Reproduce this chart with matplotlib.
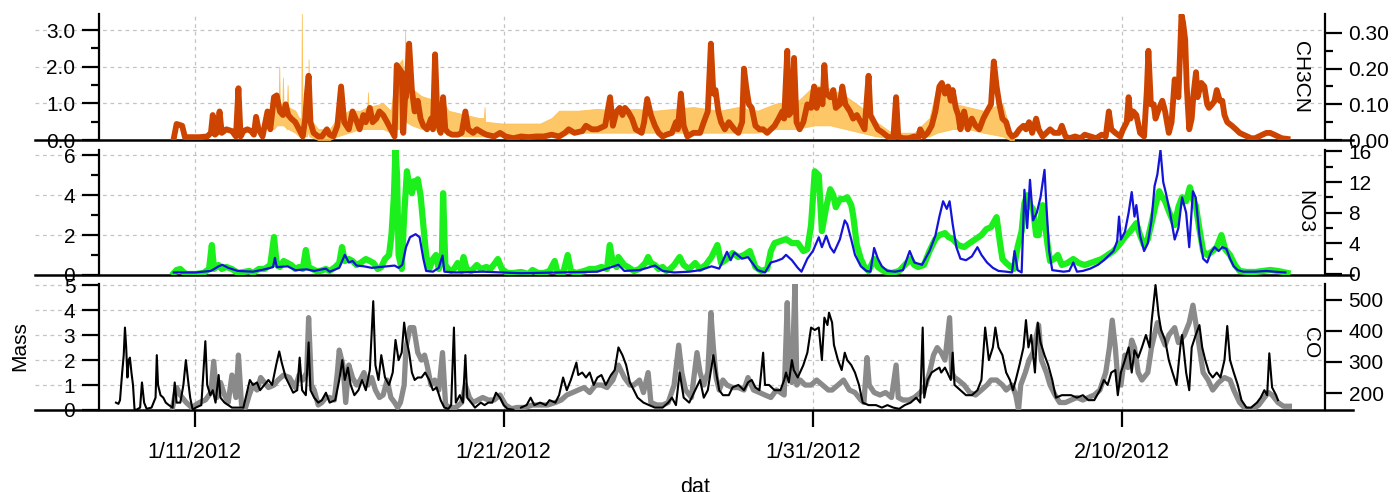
import matplotlib
matplotlib.use('Agg')
import matplotlib.pyplot as plt
import numpy as np
from matplotlib.ticker import FixedLocator

plt.rcParams['font.family'] = ['Liberation Sans', 'DejaVu Sans']

# time axis: days since 2012-01-01 (1/11/2012 -> 10)
date_ticks = [10, 20, 30, 40]
date_labels = ['1/11/2012', '1/21/2012', '1/31/2012', '2/10/2012']

# top panel: light orange trace (left axis) drawn as its visible min/max band
org = [(12.39, .3, .5), (12.57, .3, 1.1), (12.66, .4, 1.0), (12.72, .4, 1.0), (12.74, .4, 2.0), (12.76, .4, 1.0),
       (12.84, .4, 1.0), (12.86, .4, 1.7), (12.88, .4, .9), (12.99, .3, .9), (13.01, .3, 1.5), (13.03, .3, .9),
       (13.26, .2, .8), (13.38, .1, .6), (13.45, .1, .6), (13.47, .1, 3.5), (13.49, .1, .5), (13.63, .1, .8),
       (13.67, .2, .8), (13.69, .2, 2.2), (13.71, .1, .6), (14.00, 0, .3), (14.37, 0, .3), (14.62, .1, .6),
       (14.99, .2, .8), (15.36, .3, .8), (15.59, .3, .9), (15.61, .3, 1.3), (15.63, .3, .9), (16.10, .3, 1.0),
       (16.35, .2, .8), (16.54, .3, 2.0), (16.72, .3, 2.2), (16.79, .5, 1.5), (16.81, .5, 3.0), (16.83, .5, 2.0),
       (17.03, .4, 1.4), (17.34, .3, 1.2), (17.71, .3, 1.1), (18.08, .2, 1.0), (18.21, .2, .8), (18.70, .1, .7),
       (19.20, .1, .6), (19.36, .1, .6), (19.38, .1, .9), (19.40, .1, .5), (19.94, .1, .45), (20.56, .1, .45),
       (21.18, .1, .45), (21.55, .1, .6), (21.79, .15, .8), (22.41, .2, .8), (23.03, .2, .85), (23.65, .2, .8),
       (24.27, .2, .85), (24.89, .2, .8), (25.51, .2, .85), (26.13, .2, .9), (26.97, .2, .8), (27.59, .2, .9),
       (28.21, .2, .8), (28.82, .3, 1.0), (29.44, .3, 1.0), (30.06, .4, 1.5), (30.56, .4, 1.4), (31.05, .3, 1.2),
       (31.55, .2, .9), (32.04, .1, .5), (32.54, .05, .2), (33.28, .05, .2), (33.77, .1, .6), (34.02, .2, 1.5),
       (34.52, .3, 1.0), (35.01, .3, .9), (35.51, .2, .8), (36.13, .1, 1.0), (36.37, 0, .3), (36.50, 0, .05)]

# top panel: CH3CN (right axis)
ch3cn = [(9.33, .005), (9.42, .045), (9.60, .040), (9.69, .008), (10.16, .008), (10.41, .010), (10.53, .020),
         (10.59, .070), (10.66, .015), (10.72, .020), (10.81, .080), (10.88, .020), (11.03, .030), (11.21, .025),
         (11.34, .010), (11.42, .145), (11.49, .010), (11.58, .025), (11.71, .030), (11.83, .025), (11.92, .015),
         (11.99, .065), (12.07, .030), (12.20, .010), (12.36, .080), (12.45, .030), (12.57, .120), (12.66, .125),
         (12.76, .080), (12.86, .070), (12.95, .100), (13.03, .070), (13.13, .060), (13.26, .050), (13.38, .030),
         (13.50, .010), (13.58, .060), (13.63, .125), (13.69, .180), (13.75, .050), (13.85, .020), (14.00, .010),
         (14.12, .010), (14.28, .030), (14.37, .015), (14.49, .010), (14.62, .040), (14.74, .150), (14.84, .050),
         (14.99, .030), (15.11, .080), (15.21, .060), (15.34, .030), (15.46, .070), (15.54, .050), (15.67, .090),
         (15.76, .050), (15.88, .060), (15.98, .080), (16.10, .070), (16.23, .050), (16.35, .030), (16.47, .010),
         (16.54, .210), (16.62, .200), (16.70, .190), (16.75, .020), (16.81, .120), (16.84, .120), (16.94, .270),
         (17.03, .140), (17.12, .080), (17.22, .110), (17.31, .060), (17.40, .040), (17.52, .030), (17.65, .060),
         (17.71, .030), (17.78, .240), (17.86, .050), (17.96, .020), (18.04, .120), (18.11, .030), (18.21, .020),
         (18.33, .015), (18.52, .015), (18.64, .020), (18.76, .080), (18.85, .030), (19.01, .020), (19.13, .030),
         (19.32, .020), (19.44, .015), (19.69, .010), (19.88, .020), (20.06, .010), (20.31, .005), (20.56, .010),
         (20.80, .008), (21.05, .010), (21.30, .010), (21.55, .015), (21.79, .010), (21.98, .020), (22.10, .030),
         (22.29, .020), (22.54, .025), (22.66, .040), (22.85, .030), (23.03, .030), (23.28, .040), (23.44, .120),
         (23.53, .040), (23.65, .080), (23.75, .090), (23.84, .070), (23.92, .090), (24.02, .080), (24.15, .060),
         (24.27, .030), (24.46, .020), (24.54, .050), (24.64, .115), (24.76, .070), (24.89, .040), (25.01, .020),
         (25.14, .010), (25.26, .015), (25.44, .020), (25.57, .050), (25.63, .030), (25.73, .130), (25.82, .040),
         (25.94, .010), (26.13, .020), (26.35, .020), (26.47, .050), (26.60, .080), (26.70, .270), (26.78, .130),
         (26.85, .140), (26.94, .080), (27.03, .050), (27.15, .030), (27.28, .050), (27.46, .030), (27.59, .020),
         (27.71, .050), (27.77, .200), (27.84, .150), (27.93, .100), (28.02, .090), (28.14, .040), (28.27, .030),
         (28.39, .030), (28.52, .020), (28.64, .030), (28.76, .040), (28.89, .060), (29.01, .080), (29.07, .060),
         (29.17, .250), (29.22, .070), (29.32, .080), (29.39, .230), (29.47, .050), (29.57, .030), (29.69, .050),
         (29.82, .100), (29.94, .090), (30.04, .150), (30.12, .090), (30.19, .140), (30.31, .100), (30.37, .210),
         (30.43, .130), (30.56, .120), (30.66, .140), (30.74, .090), (30.87, .100), (30.95, .150), (31.05, .100),
         (31.20, .080), (31.30, .060), (31.42, .070), (31.55, .050), (31.67, .030), (31.80, .180), (31.86, .070),
         (31.98, .050), (32.10, .030), (32.27, .020), (32.41, .010), (32.60, .005), (32.69, .120), (32.76, .010),
         (32.91, .005), (33.10, .005), (33.28, .010), (33.40, .005), (33.47, .030), (33.59, .010), (33.71, .020),
         (33.84, .040), (33.96, .080), (34.09, .150), (34.17, .160), (34.27, .130), (34.37, .150), (34.46, .110),
         (34.52, .140), (34.62, .090), (34.70, .070), (34.77, .030), (34.89, .080), (35.01, .030), (35.14, .060),
         (35.26, .040), (35.38, .030), (35.51, .060), (35.63, .080), (35.76, .100), (35.85, .220), (35.94, .150),
         (36.03, .100), (36.13, .060), (36.25, .050), (36.35, .020), (36.44, .010), (36.56, .015), (36.68, .030),
         (36.81, .040), (36.89, .030), (36.99, .050), (37.09, .020), (37.22, .060), (37.30, .030), (37.43, .010),
         (37.55, .020), (37.67, .030), (37.80, .020), (37.96, .020), (38.05, .040), (38.17, .010), (38.29, .005),
         (38.48, .010), (38.66, .005), (38.79, .015), (38.97, .010), (39.16, .005), (39.34, .015), (39.47, .010),
         (39.57, .080), (39.65, .030), (39.78, .020), (39.94, .010), (40.03, .030), (40.15, .050), (40.21, .120),
         (40.27, .060), (40.36, .080), (40.46, .070), (40.58, .020), (40.71, .010), (40.80, .140), (40.85, .250),
         (40.93, .100), (41.02, .100), (41.08, .060), (41.20, .090), (41.30, .110), (41.39, .080), (41.51, .020),
         (41.60, .050), (41.70, .170), (41.82, .120), (41.92, .350), (41.97, .330), (42.04, .280), (42.09, .150),
         (42.17, .030), (42.25, .060), (42.31, .130), (42.39, .190), (42.44, .120), (42.56, .160), (42.66, .150),
         (42.75, .100), (42.81, .090), (42.91, .100), (42.99, .110), (43.06, .140), (43.16, .110), (43.24, .110),
         (43.31, .070), (43.40, .050), (43.55, .040), (43.68, .030), (43.80, .020), (43.92, .015), (44.05, .010),
         (44.17, .005), (44.30, .005), (44.42, .010), (44.54, .015), (44.67, .020), (44.79, .020), (44.92, .015),
         (45.04, .010), (45.16, .005), (45.35, .003)]

# middle panel: green trace (left axis)
grn = [(9.33, .1), (9.42, .25), (9.54, .3), (9.64, .15), (9.73, .05), (10.04, .05), (10.29, .1), (10.47, .3),
       (10.56, 1.5), (10.63, .3), (10.78, .5), (10.88, .3), (11.03, .4), (11.21, .3), (11.40, .1), (11.58, .15),
       (11.77, .2), (11.89, .1), (12.08, .3), (12.26, .3), (12.45, .5), (12.57, 1.9), (12.66, .5), (12.76, .4),
       (12.88, .7), (13.01, .6), (13.13, .5), (13.26, .3), (13.38, .4), (13.50, .3), (13.60, 1.25), (13.69, .4),
       (13.81, .3), (13.94, .2), (14.06, .2), (14.25, .3), (14.37, .2), (14.55, .4), (14.68, .6), (14.77, 1.4),
       (14.86, .7), (14.99, .8), (15.11, .7), (15.24, .5), (15.36, .6), (15.54, .8), (15.67, .7), (15.79, .6),
       (15.92, .3), (16.04, .4), (16.16, .8), (16.29, 1.0), (16.37, 2.0), (16.45, 4.0), (16.50, 6.3), (16.55, 5.0),
       (16.60, 1.0), (16.70, .3), (16.78, 3.0), (16.87, 5.2), (16.94, 4.5), (17.03, 4.1), (17.09, 4.7), (17.15, 4.4),
       (17.22, 4.8), (17.31, 4.0), (17.40, 2.5), (17.49, 1.0), (17.59, .3), (17.71, .8), (17.81, 1.0), (17.90, .3),
       (18.00, .8), (18.04, 4.1), (18.11, .5), (18.21, .3), (18.30, .2), (18.39, .3), (18.51, .6), (18.64, .2),
       (18.70, .9), (18.80, .3), (18.95, .2), (19.13, .5), (19.26, .3), (19.44, .4), (19.57, .3), (19.72, .6),
       (19.81, .8), (19.94, .3), (20.12, .1), (20.31, .1), (20.56, .15), (20.80, .05), (20.93, .25), (21.11, .1),
       (21.30, .1), (21.48, .2), (21.65, .7), (21.73, .15), (21.92, .1), (22.07, 1.0), (22.17, .2), (22.35, .1),
       (22.60, .2), (22.78, .3), (22.97, .3), (23.16, .4), (23.34, .3), (23.43, 1.5), (23.53, .6), (23.65, .4),
       (23.71, .9), (23.80, .7), (23.90, .5), (24.02, .4), (24.21, .2), (24.39, .3), (24.58, .6), (24.67, .9),
       (24.76, .6), (24.89, .5), (25.01, .3), (25.14, .4), (25.26, .2), (25.38, .3), (25.51, .5), (25.69, .9),
       (25.82, .5), (26.00, .3), (26.19, .6), (26.35, .3), (26.53, .5), (26.72, .9), (26.91, 1.5), (27.03, .6),
       (27.22, .8), (27.40, 1.1), (27.59, .9), (27.77, 1.0), (27.96, 1.2), (28.14, .4), (28.33, .2), (28.52, .3),
       (28.64, 1.2), (28.76, 1.6), (28.95, 1.7), (29.13, 1.8), (29.32, 1.6), (29.51, 1.6), (29.69, 1.2), (29.82, 1.3),
       (29.94, 2.5), (30.06, 5.2), (30.19, 5.0), (30.29, 2.2), (30.43, 3.4), (30.56, 4.3), (30.66, 4.0), (30.74, 3.4),
       (30.87, 3.8), (30.99, 3.8), (31.11, 3.9), (31.24, 3.5), (31.30, 3.0), (31.42, 1.5), (31.55, .8), (31.67, .4),
       (31.80, .2), (31.98, .8), (32.10, .4), (32.29, .2), (32.54, .1), (32.79, .2), (32.97, .5), (33.16, .8),
       (33.28, .5), (33.40, .4), (33.59, .5), (33.77, 1.2), (33.96, 1.8), (34.09, 2.0), (34.27, 2.1), (34.39, 1.9),
       (34.52, 1.8), (34.70, 1.5), (34.89, 1.4), (35.07, 1.6), (35.26, 1.8), (35.45, 2.0), (35.61, 2.3), (35.76, 2.4),
       (35.94, 2.9), (36.06, 1.5), (36.13, .8), (36.25, .6), (36.40, .4), (36.50, .3), (36.62, 1.4), (36.75, 2.2),
       (36.84, 3.6), (36.93, 4.0), (37.02, 3.5), (37.12, 3.3), (37.22, 2.0), (37.30, 2.0), (37.43, 3.5), (37.51, 2.5),
       (37.59, 1.5), (37.67, .7), (37.80, .8), (37.92, 1.0), (38.05, .5), (38.23, .6), (38.42, .8), (38.60, .6),
       (38.79, .5), (38.97, .6), (39.16, .7), (39.34, .8), (39.53, 1.0), (39.72, 1.2), (39.90, 1.5), (40.09, 1.9),
       (40.27, 2.2), (40.46, 2.6), (40.58, 2.0), (40.71, 1.5), (40.83, 1.8), (40.95, 2.6), (41.08, 3.5), (41.20, 4.2),
       (41.26, 4.0), (41.39, 3.7), (41.51, 3.2), (41.70, 2.5), (41.82, 3.4), (41.94, 3.9), (42.07, 3.7), (42.19, 4.4),
       (42.29, 3.8), (42.38, 3.5), (42.50, 2.3), (42.62, 1.2), (42.75, 1.0), (42.93, 1.2), (43.06, 1.4), (43.21, 2.0),
       (43.33, 1.3), (43.49, 1.0), (43.65, .5), (43.80, .2), (44.05, .15), (44.30, .15), (44.54, .2), (44.79, .25),
       (45.04, .2), (45.35, .1)]

# middle panel: NO3 (right axis)
no3 = [(9.33, .2), (10.04, .2), (10.53, .4), (10.78, 1.0), (10.90, 1.2), (11.09, .8), (11.40, .4), (11.89, .3),
       (12.26, .6), (12.54, .9), (12.60, 2.1), (12.66, .9), (13.01, 1.0), (13.26, .5), (13.63, .6), (13.87, .4),
       (14.25, .7), (14.37, .3), (14.68, .8), (14.86, 2.5), (14.99, 1.5), (15.11, 1.7), (15.24, 1.1), (15.48, 1.0),
       (15.73, .8), (15.98, .9), (16.23, 1.0), (16.47, 1.1), (16.60, .8), (16.72, 1.2), (16.84, 3.5), (16.97, 4.8),
       (17.15, 5.2), (17.28, 4.8), (17.40, 2.0), (17.49, .4), (17.71, .3), (17.90, .8), (18.02, 2.4), (18.08, .3),
       (18.45, .2), (19.32, .3), (19.94, .2), (20.56, .1), (21.79, .2), (23.03, .3), (23.71, 1.2), (23.90, .4),
       (24.39, .5), (24.89, 1.1), (25.14, .4), (25.51, .2), (26.00, .3), (26.35, .5), (26.72, 1.0), (26.97, .7),
       (27.22, 2.9), (27.34, 1.8), (27.46, 2.8), (27.71, 2.0), (27.90, 2.2), (28.08, 1.2), (28.21, .5), (28.45, .2),
       (28.64, 1.5), (28.82, 1.7), (29.01, 2.0), (29.13, 2.5), (29.32, 1.8), (29.51, .8), (29.63, .3), (29.82, 2.0),
       (30.00, 3.0), (30.19, 4.8), (30.29, 3.5), (30.43, 5.0), (30.56, 3.5), (30.68, 2.8), (30.87, 4.5), (31.03, 7.0),
       (31.11, 6.5), (31.24, 4.5), (31.36, 2.5), (31.55, 1.0), (31.73, .4), (31.86, .3), (31.98, 3.4), (32.10, 2.0),
       (32.23, 1.0), (32.41, .4), (32.66, .3), (32.91, .5), (33.13, 3.0), (33.28, 1.5), (33.53, 1.2), (33.77, 3.0),
       (33.96, 5.0), (34.09, 7.5), (34.21, 9.5), (34.33, 8.5), (34.42, 9.5), (34.52, 6.5), (34.64, 3.5), (34.77, 2.0),
       (34.95, 1.8), (35.14, 2.3), (35.32, 3.5), (35.45, 2.5), (35.63, 1.5), (35.82, .8), (36.00, .4), (36.25, .3),
       (36.44, .2), (36.52, 3.0), (36.62, .5), (36.75, .2), (36.84, 11.0), (36.93, 6.0), (37.02, 12.3), (37.12, 7.0),
       (37.24, 8.0), (37.36, 10.0), (37.49, 13.6), (37.55, 9.0), (37.64, 3.0), (37.74, .5), (37.92, .4), (38.11, .3),
       (38.29, .4), (38.42, 1.5), (38.54, .3), (38.73, .4), (38.97, .7), (39.22, 1.2), (39.41, 1.8), (39.59, 2.5),
       (39.72, 3.0), (39.84, 4.3), (39.90, 7.5), (39.96, 4.5), (40.09, 5.5), (40.21, 8.0), (40.31, 10.7), (40.40, 7.5),
       (40.46, 9.0), (40.58, 5.0), (40.71, 3.0), (40.83, 4.0), (40.95, 7.0), (41.05, 11.5), (41.14, 13.0),
       (41.24, 16.2), (41.33, 12.0), (41.42, 10.5), (41.55, 8.0), (41.70, 4.5), (41.82, 6.0), (41.94, 10.0),
       (42.07, 8.0), (42.17, 3.5), (42.29, 10.8), (42.38, 10.0), (42.50, 5.0), (42.62, 2.0), (42.75, 1.5),
       (42.87, 2.8), (42.99, 3.5), (43.12, 3.0), (43.24, 3.5), (43.37, 3.3), (43.49, 2.0), (43.61, 1.0), (43.74, .5),
       (43.92, .3), (44.30, .3), (44.67, .4), (44.92, .3), (45.28, .2)]

# bottom panel: Mass (left axis)
mass = [(9.29, .1), (9.42, .9), (9.54, .6), (9.73, .3), (9.91, .1), (10.16, .3), (10.35, .4), (10.53, .7),
        (10.62, 1.95), (10.72, .5), (10.84, 1.1), (10.97, .6), (11.09, .3), (11.21, 1.4), (11.34, .5), (11.42, 2.2),
        (11.52, .2), (11.65, .1), (11.77, .6), (11.89, 1.0), (12.02, .8), (12.14, 1.3), (12.39, .9), (12.57, 1.0),
        (12.70, 1.2), (12.88, 1.4), (13.07, 1.3), (13.26, .9), (13.38, 1.4), (13.50, 1.2), (13.63, 1.5), (13.69, 3.7),
        (13.78, 1.0), (13.87, .8), (14.00, .2), (14.12, .3), (14.25, .5), (14.37, .5), (14.52, .4), (14.62, 1.5),
        (14.68, 2.4), (14.80, 1.8), (14.89, .3), (14.99, 1.8), (15.11, 1.3), (15.24, 1.0), (15.36, 1.2), (15.48, 1.5),
        (15.61, 1.0), (15.73, 1.3), (15.85, .8), (15.98, .5), (16.10, .6), (16.23, 1.2), (16.35, .5), (16.47, .3),
        (16.57, .1), (16.66, .3), (16.78, 1.0), (16.84, 2.5), (16.97, 3.3), (17.09, 3.3), (17.22, 2.3), (17.34, 2.0),
        (17.44, 2.2), (17.52, 1.8), (17.65, 1.0), (17.77, 1.2), (17.90, .8), (18.02, 2.3), (18.12, .2), (18.27, .1),
        (18.45, .1), (18.64, .3), (18.76, 1.0), (18.89, .5), (19.01, .3), (19.32, .5), (19.50, .4), (19.69, .4),
        (19.88, .6), (20.06, .2), (20.25, .05), (20.43, .1), (20.68, .1), (20.93, .2), (21.18, .2), (21.42, .2),
        (21.67, .3), (21.86, .4), (22.04, .6), (22.23, .7), (22.41, .8), (22.60, .9), (22.78, .7), (22.97, 1.0),
        (23.16, 1.0), (23.34, .9), (23.53, 1.2), (23.71, 1.8), (23.90, 1.3), (24.08, 1.0), (24.21, 1.0), (24.39, 1.2),
        (24.52, .7), (24.67, 1.5), (24.76, .3), (24.95, .2), (25.14, .2), (25.32, .3), (25.51, 1.0), (25.66, 2.6),
        (25.76, 1.5), (25.88, .8), (26.07, .5), (26.25, 2.3), (26.35, 1.5), (26.47, 1.0), (26.60, 1.5), (26.70, 3.9),
        (26.78, 2.5), (26.87, 1.3), (26.97, .8), (27.09, 1.2), (27.22, 1.0), (27.40, .9), (27.59, .9), (27.77, .8),
        (27.90, 1.3), (28.08, .8), (28.27, .7), (28.45, .6), (28.64, .5), (28.82, .8), (28.95, .7), (29.07, .6),
        (29.17, 4.3), (29.22, 1.5), (29.32, 1.1), (29.42, 5.1), (29.48, 1.0), (29.59, 1.2), (29.75, 1.0), (29.94, 1.0),
        (30.12, 1.2), (30.31, 1.0), (30.50, .8), (30.62, .8), (30.81, 1.0), (30.99, 1.2), (31.18, .8), (31.36, .7),
        (31.55, .4), (31.65, .3), (31.75, 2.1), (31.82, 1.0), (31.98, .7), (32.17, .6), (32.35, .7), (32.54, .5),
        (32.69, 1.8), (32.76, .5), (32.91, .4), (33.10, .4), (33.28, .5), (33.47, .7), (33.65, 1.0), (33.77, 1.5),
        (33.90, 2.2), (34.02, 2.5), (34.15, 2.3), (34.27, 2.0), (34.42, 3.7), (34.49, 1.5), (34.58, 1.3), (34.70, 1.2),
        (34.89, 1.0), (35.07, .7), (35.26, .6), (35.45, .8), (35.63, 1.0), (35.76, 1.2), (35.94, 1.2), (36.13, 1.0),
        (36.25, .8), (36.44, 1.0), (36.56, .6), (36.65, 0.0), (36.72, 1.0), (36.87, 1.5), (36.99, 2.0), (37.12, 2.3),
        (37.30, 3.4), (37.39, 2.0), (37.55, 1.5), (37.67, 1.0), (37.83, .6), (37.98, .3), (38.17, .3), (38.35, .4),
        (38.54, .5), (38.73, .4), (38.91, .5), (39.10, .6), (39.28, .8), (39.47, 1.5), (39.59, 2.5), (39.68, 3.6),
        (39.78, 2.5), (39.86, 1.2), (39.96, 1.0), (40.09, 2.2), (40.19, 1.7), (40.31, 2.8), (40.40, 2.5), (40.52, 1.5),
        (40.64, 1.2), (40.83, 1.5), (40.95, 2.5), (41.14, 3.5), (41.26, 3.0), (41.39, 2.6), (41.51, 3.0), (41.70, 3.3),
        (41.82, 2.7), (42.01, 3.0), (42.17, 3.5), (42.29, 4.2), (42.38, 3.5), (42.50, 2.5), (42.62, 1.5), (42.78, 1.2),
        (42.93, .8), (43.12, 1.1), (43.31, 1.3), (43.49, 1.2), (43.61, .8), (43.80, .3), (43.99, .05), (44.17, 0.0),
        (44.42, .2), (44.60, .5), (44.73, .7), (44.85, .6), (45.04, .3), (45.22, .15), (45.41, .15)]

# bottom panel: CO (right axis), nan = gap in record
co = [(7.46, 169), (7.54, 165), (7.59, 177), (7.66, 266), (7.71, 322), (7.75, 411), (7.79, 347), (7.83, 250),
      (7.87, 306), (7.91, 314), (7.96, 266), (8.01, 226), (8.06, 147), (8.12, 146), (8.24, 153), (8.30, 234),
      (8.37, 169), (8.45, 149), (8.61, 153), (8.74, 185), (8.78, 322), (8.82, 226), (8.90, 193), (8.99, 185),
      (9.07, 169), (9.17, 161), (9.29, 153), (9.36, 234), (9.42, 169), (9.54, 169), (9.64, 226), (9.72, 306),
      (9.79, 242), (9.86, 185), (9.94, 146), (10.04, 153), (10.22, 161), (10.26, 226), (10.35, 367), (10.41, 226),
      (10.51, 193), (10.59, 209), (10.68, 169), (10.78, 258), (10.84, 185), (10.97, 169), (11.09, 161), (11.21, 153),
      (11.58, 153), (11.71, 209), (11.79, 242), (11.89, 226), (12.02, 234), (12.12, 209), (12.26, 226), (12.39, 242),
      (12.51, 226), (12.64, 290), (12.74, 334), (12.82, 298), (12.95, 250), (13.07, 226), (13.19, 201), (13.32, 209),
      (13.40, 314), (13.48, 209), (13.60, 193), (13.69, 363), (13.75, 209), (13.87, 185), (14.00, 169), (14.12, 177),
      (14.25, 201), (14.37, 169), (14.55, 177), (14.68, 242), (14.78, 306), (14.86, 242), (14.96, 282), (15.05, 226),
      (15.17, 193), (15.30, 209), (15.42, 242), (15.54, 209), (15.67, 274), (15.78, 496), (15.85, 290), (15.95, 242),
      (16.04, 322), (16.16, 250), (16.29, 226), (16.41, 266), (16.50, 371), (16.60, 306), (16.70, 330), (16.78, 427),
      (16.84, 379), (16.94, 330), (17.03, 266), (17.12, 242), (17.22, 250), (17.34, 250), (17.46, 266), (17.59, 242),
      (17.71, 209), (17.83, 218), (17.96, 177), (18.08, 153), (18.21, 149), (18.30, 161), (18.39, 411), (18.45, 169),
      (18.58, 193), (18.68, 169), (18.76, 322), (18.82, 185), (18.95, 169), (19.07, 153), (19.26, 169), (19.38, 161),
      (19.50, 169), (19.63, 169), (19.75, 201), (19.88, 185), (20.00, 161), (20.12, 149), (20.31, 146),
      (20.43, np.nan), (20.56, 153), (20.74, 161), (20.87, 185), (20.99, 161), (21.18, 169), (21.36, 161),
      (21.48, 177), (21.67, 169), (21.79, 193), (21.92, 250), (22.04, 209), (22.17, 242), (22.35, 298), (22.41, 258),
      (22.54, 266), (22.66, 250), (22.78, 266), (22.91, 226), (23.03, 250), (23.16, 258), (23.30, 226), (23.47, 258),
      (23.59, 274), (23.71, 347), (23.84, 322), (23.96, 290), (24.08, 234), (24.21, 209), (24.33, 185), (24.52, 169),
      (24.70, 161), (24.89, 153), (25.14, 153), (25.32, 169), (25.44, 185), (25.57, 161), (25.69, 266), (25.82, 185),
      (26.00, 169), (26.19, 209), (26.35, 242), (26.47, 185), (26.60, 209), (26.78, 322), (26.87, 266), (26.97, 209),
      (27.09, 193), (27.28, 193), (27.40, 218), (27.59, 226), (27.77, 209), (27.90, 234), (28.02, 242), (28.14, 218),
      (28.27, 209), (28.39, 330), (28.45, 226), (28.58, 226), (28.76, 209), (28.95, 209), (29.07, 242), (29.13, 266),
      (29.22, 234), (29.32, 306), (29.38, 274), (29.51, 250), (29.69, 290), (29.82, 330), (29.94, 411), (30.06, 403),
      (30.19, 411), (30.29, 306), (30.37, 443), (30.47, 419), (30.52, 459), (30.62, 427), (30.68, 355), (30.81, 306),
      (30.93, 274), (31.03, 330), (31.11, 306), (31.24, 290), (31.36, 266), (31.49, 226), (31.61, 169), (31.80, 161),
      (32.04, 161), (32.23, 153), (32.41, 161), (32.60, 153), (32.79, 149), (32.97, 161), (33.16, 169), (33.34, 185),
      (33.47, 169), (33.55, 411), (33.60, 185), (33.71, 242), (33.84, 266), (33.96, 274), (34.09, 282), (34.15, 266),
      (34.27, 282), (34.46, 242), (34.52, 330), (34.58, 226), (34.77, 209), (34.95, 193), (35.14, 193), (35.32, 209),
      (35.45, 242), (35.57, 411), (35.69, 306), (35.82, 347), (35.90, 411), (36.00, 347), (36.13, 322), (36.25, 266),
      (36.37, 242), (36.47, 209), (36.56, 242), (36.68, 290), (36.81, 347), (36.89, 435), (36.97, 347), (37.06, 387),
      (37.18, 266), (37.27, 427), (37.36, 363), (37.49, 322), (37.61, 290), (37.74, 242), (37.86, 185), (38.05, 193),
      (38.21, 193), (38.35, 193), (38.54, 185), (38.73, 193), (38.91, 177), (39.10, 177), (39.28, 209), (39.41, 242),
      (39.53, 226), (39.65, 266), (39.78, 274), (39.86, 193), (39.96, 266), (40.09, 306), (40.21, 347), (40.31, 266),
      (40.40, 338), (40.52, 314), (40.64, 347), (40.77, 387), (40.89, 347), (40.95, 427), (41.08, 548), (41.18, 451),
      (41.26, 403), (41.39, 371), (41.51, 306), (41.63, 266), (41.76, 226), (41.88, 347), (41.94, 387), (42.07, 266),
      (42.17, 209), (42.25, 347), (42.38, 387), (42.50, 419), (42.59, 347), (42.69, 306), (42.81, 266), (42.93, 250),
      (43.06, 266), (43.18, 250), (43.31, 306), (43.40, 416), (43.49, 306), (43.61, 266), (43.74, 226), (43.86, 177),
      (44.02, 153), (44.17, 153), (44.36, 169), (44.48, 185), (44.60, 209), (44.69, 193), (44.76, 328), (44.85, 218),
      (44.98, 193), (45.04, 177)]

X0, X1 = 6.91, 46.56
GRID = '#c4c4c4'


def style_pair(ax, axr, grid_vals, vlines_ext):
    ax.set_xlim(X0, X1)
    for s in ('top', 'bottom', 'right'):
        ax.spines[s].set_visible(False)
    for s in ('top', 'bottom', 'left'):
        axr.spines[s].set_visible(False)
    ax.spines['left'].set_linewidth(1.6)
    axr.spines['right'].set_linewidth(1.6)
    ax.tick_params(axis='x', which='both', bottom=False, labelbottom=False)
    for a in (ax, axr):
        a.tick_params(axis='y', which='major', direction='out', length=12, width=1.6,
                      labelsize=15, pad=5)
        a.tick_params(axis='y', which='minor', direction='out', length=6, width=1.6)
    # dashed gridlines running out past the left axis
    for v in grid_vals:
        ax.plot([-0.052, 1.0], [v, v], transform=ax.get_yaxis_transform(), color=GRID,
                lw=0.9, ls=(0, (3, 3)), clip_on=False, zorder=0.5)
    for d in date_ticks:
        ax.axvline(d, ymin=0, ymax=vlines_ext, color=GRID, lw=0.9, ls=(0, (3, 3)),
                   clip_on=False, zorder=0.5)
    # zero line spanning the whole width
    ax.plot([-0.052, 1.0228], [0, 0], transform=ax.transAxes, color='black', lw=1.8,
            clip_on=False, zorder=1)


fig = plt.figure(figsize=(14, 4.92), dpi=100)
ax1 = fig.add_axes([0.0707, 0.7154, 0.8757, 0.2561])
ax2 = fig.add_axes([0.0707, 0.4411, 0.8757, 0.2541])
ax3 = fig.add_axes([0.0707, 0.1667, 0.8757, 0.2561])
ax1r = ax1.twinx()
ax2r = ax2.twinx()
ax3r = ax3.twinx()

# top
t, lo, hi = np.array(org).T
ax1.fill_between(t, lo, hi, color='#fdbd4c', alpha=0.85, lw=0.6, zorder=2)
t, v = np.array(ch3cn).T
ax1r.plot(t, v, color='#cc4400', lw=4.2, solid_joinstyle='round')
ax1.set_ylim(0, 3.436)
ax1r.set_ylim(0, 0.353)
ax1.yaxis.set_major_locator(FixedLocator([0, 1, 2, 3]))
ax1.yaxis.set_minor_locator(FixedLocator([0.5, 1.5, 2.5]))
ax1.set_yticklabels(['0.0', '1.0', '2.0', '3.0'])
ax1r.yaxis.set_major_locator(FixedLocator([0, 0.1, 0.2, 0.3]))
ax1r.yaxis.set_minor_locator(FixedLocator([0.05, 0.15, 0.25]))
ax1r.set_yticklabels(['0.00', '0.10', '0.20', '0.30'])
style_pair(ax1, ax1r, [1, 2, 3], 1.0)

# middle
t, v = np.array(grn).T
ax2.plot(t, v, color='#1cf01c', lw=4.5, solid_joinstyle='round', zorder=2)
t, v = np.array(no3).T
ax2r.plot(t, v, color='#1414d8', lw=1.6)
ax2.set_ylim(0, 6.27)
ax2r.set_ylim(-0.13, 16.2)
ax2.yaxis.set_major_locator(FixedLocator([0, 2, 4, 6]))
ax2.yaxis.set_minor_locator(FixedLocator([1, 3, 5]))
ax2r.yaxis.set_major_locator(FixedLocator([0, 4, 8, 12, 16]))
ax2r.yaxis.set_minor_locator(FixedLocator([2, 6, 10, 14]))
style_pair(ax2, ax2r, [2, 4, 6], 1.08)

# bottom
t, v = np.array(mass).T
ax3.plot(t, v, color='#8a8a8a', lw=3.8, solid_joinstyle='round', zorder=2)
t, v = np.array(co).T
ax3r.plot(t, v, color='black', lw=1.5)
ax3.set_ylim(0, 5.05)
ax3r.set_ylim(145.3, 551.4)
ax3.yaxis.set_major_locator(FixedLocator([0, 1, 2, 3, 4, 5]))
ax3r.yaxis.set_major_locator(FixedLocator([200, 300, 400, 500]))
style_pair(ax3, ax3r, [1, 2, 3, 4, 5], 1.07)

ax3.set_xticks(date_ticks)
ax3.set_xticklabels(date_labels)
ax3.tick_params(axis='x', which='major', bottom=True, labelbottom=True, direction='out',
                length=12, width=1.6, labelsize=15.5, pad=11)

fig.text(1300 / 1400, 1 - 77 / 492, 'CH3CN', rotation=270, ha='center', va='center', fontsize=15)
fig.text(1305 / 1400, 1 - 212 / 492, 'NO3', rotation=270, ha='center', va='center', fontsize=15)
fig.text(1311 / 1400, 1 - 343 / 492, 'CO', rotation=270, ha='center', va='center', fontsize=15)
fig.text(20 / 1400, 1 - 346 / 492, 'Mass', rotation=90, ha='center', va='center', fontsize=15)
fig.text(695 / 1400, 1 - 477 / 492, 'dat', ha='center', va='top', fontsize=15.5)

fig.savefig('out.png', dpi=100)
